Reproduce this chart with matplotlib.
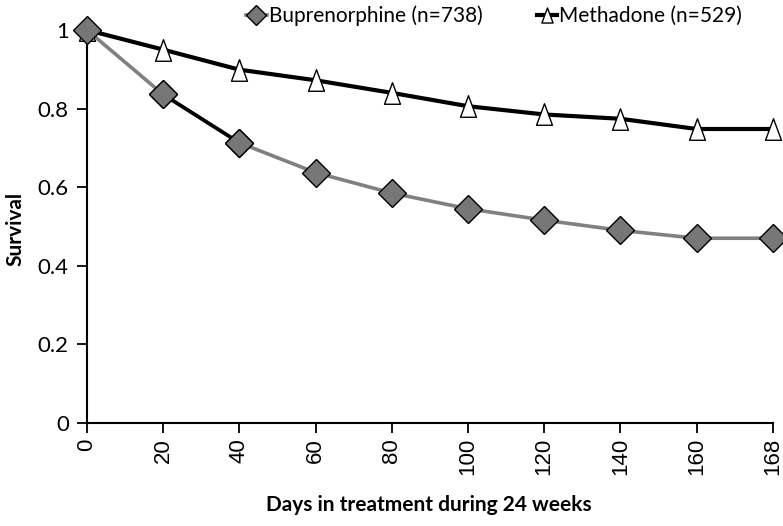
import matplotlib
matplotlib.use("Agg")
import matplotlib.pyplot as plt
import numpy as np
from matplotlib.path import Path

days = ["0", "20", "40", "60", "80", "100", "120", "140", "160", "168"]
bup = [1.0, 0.836, 0.713, 0.637, 0.585, 0.545, 0.516, 0.490, 0.470, 0.470]
meth = [1.0, 0.950, 0.899, 0.872, 0.840, 0.806, 0.785, 0.774, 0.748, 0.748]
yticks = [0, 0.2, 0.4, 0.6, 0.8, 1]
ylabels = ["0", "0.2", "0.4", "0.6", "0.8", "1"]

calib = "Lato"
tri = Path([(0, 1), (-0.74, -1), (0.74, -1), (0, 1)],
           [Path.MOVETO, Path.LINETO, Path.LINETO, Path.CLOSEPOLY])

fig = plt.figure(figsize=(7.83, 5.26), dpi=100)
ax = fig.add_axes([0.111, 0.196, 0.876, 0.747])

x = np.arange(len(days))
ax.plot(x, meth, color="black", lw=3.0, marker=tri, ms=15.5,
        mfc="white", mec="black", mew=1.0, zorder=3, clip_on=False,
        label="Methadone (n=529)")
ax.plot(x, bup, color="#808080", lw=2.6, marker="D", ms=14,
        mfc="#777777", mec="black", mew=1.0, zorder=4, clip_on=False,
        label="Buprenorphine (n=738)")
# segment 20-40 appears black in the original
ax.plot(x[1:3], bup[1:3], color="black", lw=2.6, marker="D", ms=14,
        mfc="#777777", mec="black", mew=1.0, zorder=4.1)

ax.set_xlim(0, len(days) - 1)
ax.set_ylim(0, 1)
ax.set_xticks(x)
ax.set_xticklabels(days, rotation=90, family="Liberation Sans", fontsize=16)
ax.set_yticks(yticks)
ax.set_yticklabels(ylabels, family=calib, fontsize=16)
ax.tick_params(axis="both", direction="out", length=7, width=1.3, color="black")
ax.tick_params(axis="y", pad=6)
ax.tick_params(axis="x", pad=4)
for s in ["top", "right"]:
    ax.spines[s].set_visible(False)
for s in ["left", "bottom"]:
    ax.spines[s].set_linewidth(1.5)
ax.spines["left"].set_zorder(1)

fig.text(0.548, 0.04, "Days in treatment during 24 weeks", family=calib,
         fontweight="bold", fontsize=15, ha="center", va="center")
fig.text(0.02, 0.565, "Survival", family=calib, fontweight="bold",
         fontsize=15, rotation=90, ha="center", va="center")

h, l = ax.get_legend_handles_labels()
fig.legend(h[::-1], l[::-1], loc="upper right", bbox_to_anchor=(0.972, 1.025),
           ncol=2, frameon=False, handlelength=1.0, handletextpad=0.1,
           columnspacing=2.6, prop={"family": calib, "size": 15},
           markerscale=0.7)

fig.savefig("out.png", dpi=100)
